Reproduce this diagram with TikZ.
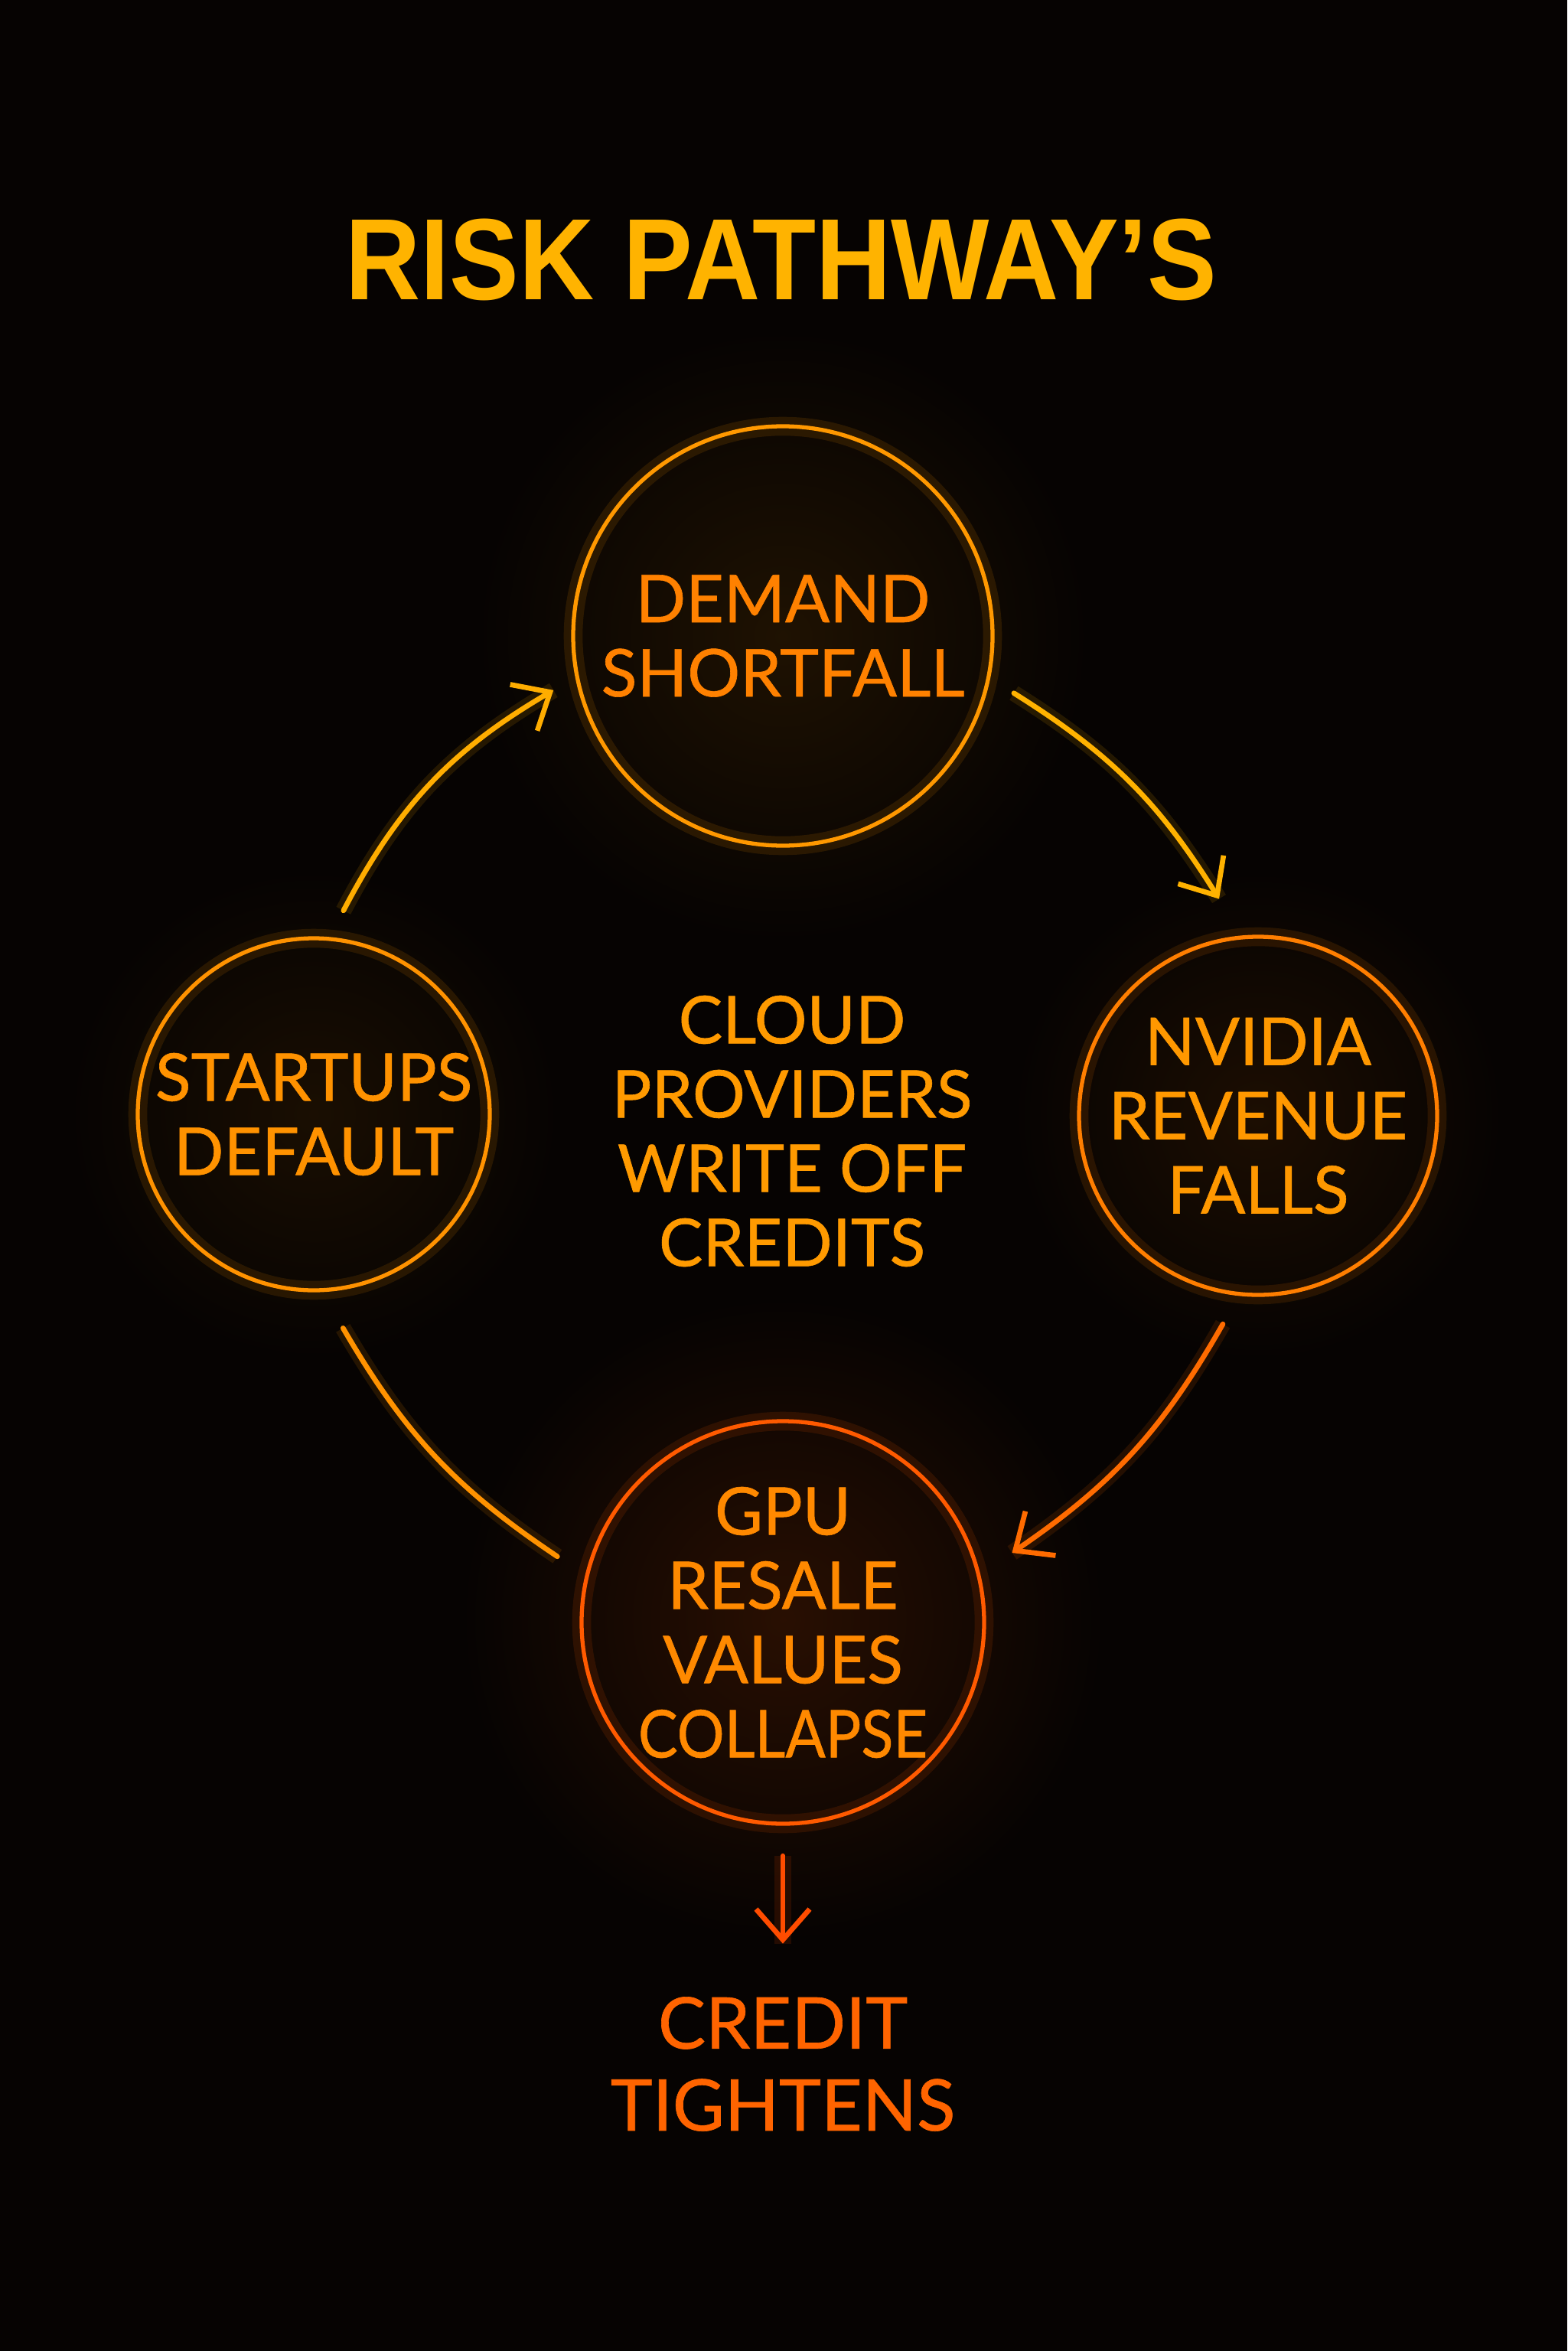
\documentclass[tikz,border=0pt]{standalone}
\usepackage{fontspec,graphicx}
\setmainfont{Lato}
\newfontfamily\labelfont{Lato}[FakeBold=0.7]
\newfontfamily\titlefont{Liberation Sans}
\usetikzlibrary{arrows.meta,calc}

\definecolor{bgcol}{HTML}{060302}
\definecolor{titlecol}{HTML}{FFB300}
\definecolor{topcol}{HTML}{FF9800}
\definecolor{leftcol}{HTML}{FF9200}
\definecolor{rightcol}{HTML}{FF7E00}
\definecolor{botcol}{HTML}{FF5A00}
\definecolor{midtext}{HTML}{FF9A00}
\definecolor{credcol}{HTML}{FF6400}

\begin{document}
\begin{tikzpicture}[x=1cm,y=1cm,
    risk/.style={circle, draw=#1, line width=1.5pt, align=center, inner sep=-8mm,
      font=\labelfont\fontsize{24.5}{27.6}\selectfont,
      preaction={draw=#1, line width=7pt, draw opacity=.12}},
    path/.style={draw=#1, line width=1.9pt, line cap=round,
      -{Straight Barb[length=4mm,width=7mm,line width=1.9pt]},
      preaction={draw=#1, line width=6pt, draw opacity=.12, -}}]
  % background
  \fill[bgcol] (0,0) rectangle (20.48,-30.72);
  \useasboundingbox (0,0) rectangle (20.48,-30.72);
  \shade[inner color=botcol!14!bgcol, outer color=bgcol] (10.23,-21.16) circle (4.2);
  \shade[inner color=topcol!10!bgcol, outer color=bgcol] (10.23,-8.31) circle (4);
  \shade[inner color=leftcol!8!bgcol, outer color=bgcol] (4.10,-14.56) circle (3.2);
  \shade[inner color=rightcol!9!bgcol, outer color=bgcol] (16.44,-14.58) circle (3.2);

  \node[text=titlecol, font=\titlefont\bfseries\fontsize{43}{46}\selectfont, anchor=base]
     (title) at (10.21,-3.92) {\scalebox{.9}[1]{RISK PATHWAY\textquoteright S}};

  % the four stages
  \node[risk=topcol, minimum size=5.48cm, text=topcol!85!red] (demand) at (10.23,-8.31) {DEMAND\\SHORTFALL};
  \node[risk=leftcol, minimum size=4.60cm, text=leftcol] (startups) at (4.10,-14.56) {STARTUPS\\DEFAULT};
  \node[risk=rightcol, minimum size=4.68cm, text=topcol] (nvidia) at (16.44,-14.58) {NVIDIA\\REVENUE\\FALLS};
  \node[risk=botcol, minimum size=5.26cm, text=topcol!90!red] (gpu) at (10.23,-21.2)
     {GPU\\RESALE\\VALUES\\\scalebox{.9}[1]{COLLAPSE}};

  \node[align=center, text=midtext, font=\labelfont\fontsize{24.5}{27.6}\selectfont] (cloud) at (10.35,-14.78)
     {CLOUD\\PROVIDERS\\WRITE OFF\\CREDITS};
  \node[align=center, text=credcol, font=\labelfont\fontsize{26.5}{30.5}\selectfont] (credit) at (10.23,-26.97)
     {CREDIT\\TIGHTENS};

  % end points round the circles
  \path (startups.center) ++(81.7:2.69) coordinate (a1s);
  \path (demand.center) ++(193.3:3.08) coordinate (a1e);
  \path (demand.center) ++(-13.9:3.11) coordinate (a2s);
  \path (nvidia.center) ++(100.2:2.88) coordinate (a2e);
  \path (nvidia.center) ++(260.4:2.76) coordinate (a3s);
  \path (gpu.center) ++(16.9:3.13) coordinate (a3e);
  \path (gpu.center) ++(163.7:3.07) coordinate (a4s);
  \path (startups.center) ++(277.8:2.82) coordinate (a4e);
  \path (gpu.south) ++(0,-.39) coordinate (a5s);
  \path (gpu.south) ++(0,-1.54) coordinate (a5e);

  \draw[path=topcol!80!yellow] (a1s) to[bend left=16] (a1e);
  \draw[path=topcol!75!yellow] (a2s) to[bend left=13] (a2e);
  \draw[path=botcol!90!yellow] (a3s) to[bend left=13] (a3e);
  \draw[path=leftcol, -] (a4s) to[bend left=13] (a4e);
  \draw[path=botcol!85!red, line width=1.6pt] (a5s) -- (a5e);
\end{tikzpicture}
\end{document}
